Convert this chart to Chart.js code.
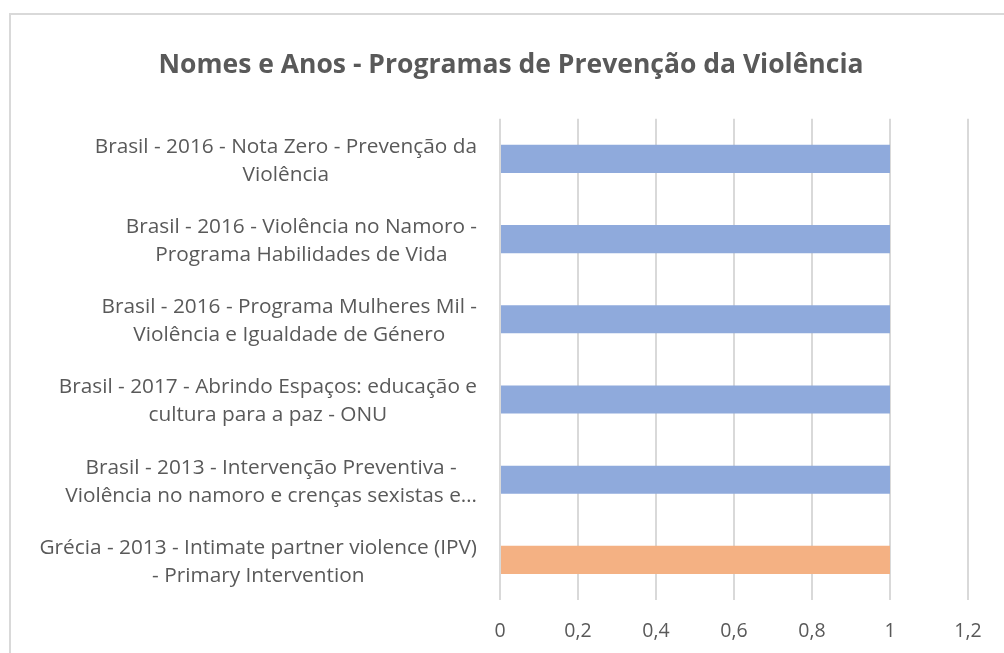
<!DOCTYPE html>
<html>
<head>
<meta charset="utf-8">
<script src="https://cdn.jsdelivr.net/npm/chart.js@4"></script>
<style>
  html, body { margin: 0; padding: 0; background: #fff; }
  #wrap { width: 1004px; height: 653px; position: relative; overflow: hidden; }
</style>
</head>
<body>
<div id="wrap"><canvas id="chart" width="1004" height="653"></canvas></div>
<script>
const chartTitle = 'Nomes e Anos - Programas de Prevenção da Violência';

// top to bottom, each label split the way the picture wraps it
const categories = [
  ['Brasil - 2016 - Nota Zero - Prevenção da', 'Violência'],
  ['Brasil - 2016 - Violência no Namoro -', 'Programa Habilidades de Vida'],
  ['Brasil - 2016 - Programa Mulheres Mil -', 'Violência e Igualdade de Género'],
  ['Brasil - 2017 - Abrindo Espaços: educação e', 'cultura para a paz - ONU'],
  ['Brasil - 2013 - Intervenção Preventiva -', 'Violência no namoro e crenças sexistas e…'],
  ['Grécia - 2013 - Intimate partner violence (IPV)', '- Primary Intervention']
];
const values = [1, 1, 1, 1, 1, 1];
const barColors = ['#8FAADC', '#8FAADC', '#8FAADC', '#8FAADC', '#8FAADC', '#F4B183'];
const xTicks = [0, 0.2, 0.4, 0.6, 0.8, 1, 1.2];

const textColor = '#595959';
const gridColor = '#D9D9D9';
const fontFamily = '"Open Sans", Lato, sans-serif';

// outer frame of the chart box (runs off the right and bottom edge)
const frame = {
  id: 'frame',
  beforeDraw(chart) {
    const ctx = chart.ctx;
    ctx.save();
    ctx.fillStyle = '#fff';
    ctx.fillRect(0, 0, chart.width, chart.height);
    ctx.strokeStyle = gridColor;
    ctx.lineWidth = 2;
    ctx.strokeRect(10, 14, 1200, 800);
    ctx.restore();
  }
};

// category labels: block right-aligned to the axis, each line centred in the block
const categoryLabels = {
  id: 'categoryLabels',
  afterDraw(chart) {
    const scale = chart.scales.y;
    const ctx = chart.ctx;
    const lh = 28;
    ctx.save();
    ctx.font = '20.8px ' + fontFamily;
    ctx.fillStyle = textColor;
    ctx.textAlign = 'center';
    ctx.textBaseline = 'middle';
    chart.data.labels.forEach((lines, i) => {
      const cy = scale.getPixelForTick(i) + 2;
      const w = Math.max(...lines.map(l => ctx.measureText(l).width));
      const cx = scale.right - 23 - w / 2;
      lines.forEach((l, k) => {
        ctx.fillText(l, cx, cy + (k - (lines.length - 1) / 2) * lh);
      });
    });
    ctx.restore();
  }
};

new Chart(document.getElementById('chart'), {
  type: 'bar',
  data: {
    labels: categories,
    datasets: [{
      data: values,
      backgroundColor: barColors,
      borderWidth: 0,
      barPercentage: 0.35,
      categoryPercentage: 1
    }]
  },
  options: {
    indexAxis: 'y',
    responsive: false,
    animation: false,
    layout: { padding: { left: 18, right: 0, top: 0, bottom: 0 } },
    plugins: {
      legend: { display: false },
      tooltip: { enabled: false },
      title: {
        display: true,
        text: chartTitle,
        color: textColor,
        font: { family: fontFamily, size: 26.5, weight: 'bold', lineHeight: 1.2 },
        padding: { top: 50, bottom: 37 }
      }
    },
    scales: {
      x: {
        min: 0,
        max: 1.2,
        afterBuildTicks(s) { s.ticks = xTicks.map(v => ({ value: v })); },
        ticks: {
          color: textColor,
          font: { family: fontFamily, size: 19.5 },
          padding: 20,
          maxRotation: 0,
          callback: v => String(Math.round(v * 10) / 10).replace('.', ',')
        },
        grid: { color: gridColor, lineWidth: 2, drawTicks: false },
        border: { display: false },
        afterFit(s) { s.height = 53; }
      },
      y: {
        ticks: { display: false },
        grid: { display: false },
        border: { display: false },
        afterFit(s) { s.width = 482; }
      },
      yRight: {
        type: 'linear',
        position: 'right',
        ticks: { display: false },
        grid: { display: false },
        border: { display: false },
        afterFit(s) { s.width = 36; }
      }
    }
  },
  plugins: [frame, categoryLabels]
});
</script>
</body>
</html>
